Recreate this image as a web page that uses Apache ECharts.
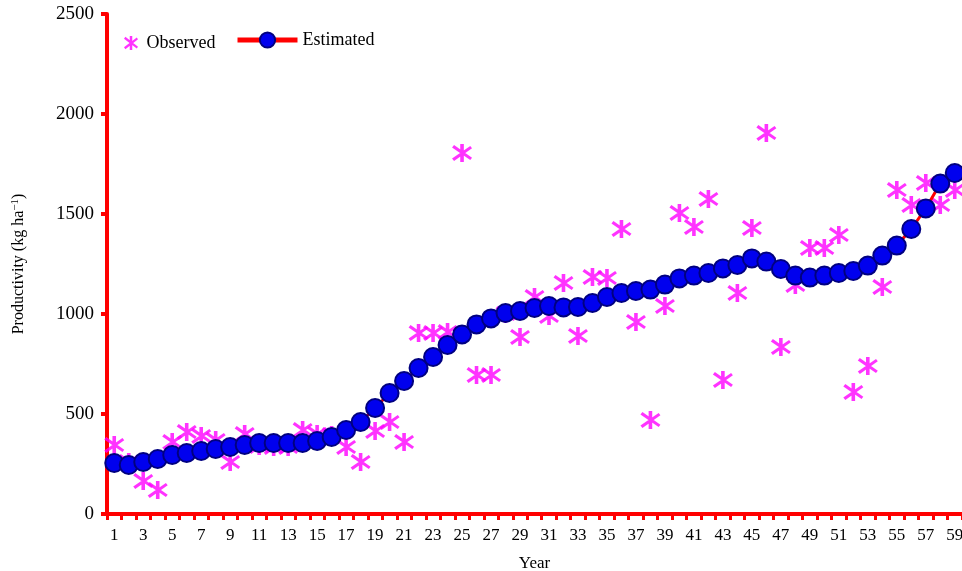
<!DOCTYPE html>
<html>
<head>
<meta charset="utf-8">
<script src="https://cdn.jsdelivr.net/npm/echarts@6/dist/echarts.min.js"></script>
<style>
  html, body { margin: 0; padding: 0; background: #ffffff; }
  #chart { width: 962px; height: 571px; }
</style>
</head>
<body>
<div id="chart"></div>
<script>
// Year index along the horizontal axis
const years = Array.from({ length: 59 }, (_, i) => String(i + 1));

// Observed productivity (kg ha-1) per year
const observed = [
  345, 260, 165, 120, 360, 410, 390, 370, 260, 400,
  340, 335, 335, 420, 400, 395, 335, 260, 415, 460,
  360, 905, 905, 910, 1805, 695, 695, 1000, 885, 1085,
  990, 1155, 890, 1185, 1180, 1425, 960, 470, 1040, 1505,
  1435, 1575, 670, 1105, 1430, 1905, 835, 1145, 1330, 1330,
  1395, 610, 740, 1135, 1620, 1545, 1655, 1545, 1620
];

// Estimated productivity (kg ha-1) per year
const estimated = [
  255, 245, 260, 275, 295, 305, 315, 325, 335, 345,
  355, 355, 355, 355, 365, 385, 420, 460, 530, 605,
  665, 730, 785, 845, 898, 948, 978, 1005, 1015, 1030,
  1040, 1033, 1035, 1055, 1085, 1105, 1115, 1122, 1147, 1178,
  1192, 1205, 1228, 1245, 1278, 1262, 1225, 1192, 1182, 1192,
  1205, 1215, 1242, 1292, 1342, 1425, 1528, 1652, 1705
];

// Y axis range and step
const yMin = 0;
const yMax = 2500;
const yStep = 500;

const FONT = 'Liberation Serif';
const RED = '#ff0000';

// Asterisk marker: a vertical bar plus two diagonal bars, all wound the same way
const asterisk = 'path://M41 0L59 0L59 100L41 100Z' +
  'M10 6L100 76L91 89L0 19Z' +
  'M0 81L91 11L100 24L10 94Z';

const chart = echarts.init(document.getElementById('chart'), null, { renderer: 'canvas' });

chart.setOption({
  animation: false,
  backgroundColor: '#ffffff',
  grid: { left: 107, right: 0, top: 14, bottom: 57, containLabel: false, outerBoundsMode: 'none' },
  legend: [
    {
      data: ['Observed'],
      left: 119,
      top: 29,
      itemWidth: 15,
      itemHeight: 14,
      textStyle: { fontFamily: FONT, fontSize: 18, color: '#000', padding: [0, 0, 0, 3] }
    },
    {
      data: [{ name: 'Estimated', lineStyle: { width: 5 } }],
      left: 230,
      top: 26,
      itemWidth: 60,
      itemHeight: 19,
      textStyle: { fontFamily: FONT, fontSize: 18, color: '#000', padding: [8, 0, 0, 0] }
    }
  ],
  xAxis: {
    type: 'category',
    data: years,
    boundaryGap: true,
    name: 'Year',
    nameLocation: 'middle',
    nameGap: 41,
    nameTextStyle: { fontFamily: FONT, fontSize: 17, color: '#000' },
    axisLine: { show: true, lineStyle: { color: RED, width: 4 } },
    axisTick: { show: true, interval: 0, length: 6, lineStyle: { color: RED, width: 3 } },
    axisLabel: { interval: 1, margin: 13, fontFamily: FONT, fontSize: 17, color: '#000' },
    splitLine: { show: false }
  },
  yAxis: {
    type: 'value',
    min: yMin,
    max: yMax,
    interval: yStep,
    name: 'Productivity (kg ha{sup|\u22121})',
    nameLocation: 'middle',
    nameGap: 80,
    nameRotate: 90,
    nameTextStyle: {
      fontFamily: FONT, fontSize: 16, color: '#000',
      rich: { sup: { fontFamily: FONT, fontSize: 11, verticalAlign: 'top', color: '#000', padding: [0, 0, 6, 0] } }
    },
    axisLine: { show: true, lineStyle: { color: RED, width: 4 } },
    axisTick: { show: true, length: 6, lineStyle: { color: RED, width: 4 } },
    axisLabel: { margin: 13, fontFamily: FONT, fontSize: 19, color: '#000', formatter: (v) => String(v) },
    splitLine: { show: false }
  },
  series: [
    {
      name: 'Observed',
      type: 'scatter',
      data: observed,
      symbol: asterisk,
      symbolSize: [20, 18],
      itemStyle: { color: '#ff00ff' },
      z: 2
    },
    {
      name: 'Estimated',
      type: 'line',
      data: estimated,
      symbol: 'circle',
      symbolSize: 18,
      showAllSymbol: true,
      lineStyle: { color: RED, width: 3 },
      itemStyle: { color: '#0000ee', borderColor: '#000080', borderWidth: 2 },
      z: 3
    }
  ]
});
</script>
</body>
</html>
